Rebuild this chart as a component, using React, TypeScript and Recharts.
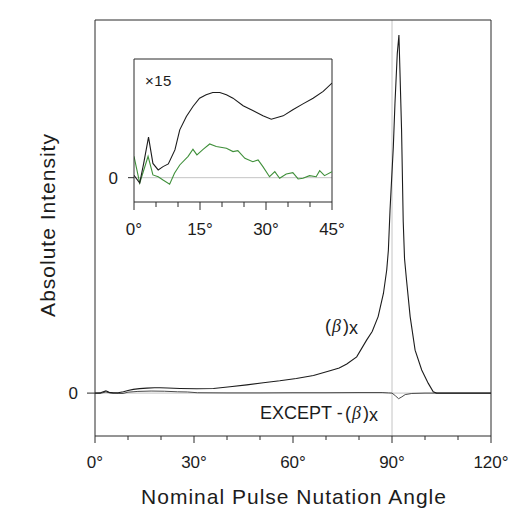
import { Line, LineChart, ReferenceLine, XAxis, YAxis } from "recharts";

const FONT = "'Liberation Sans', Arial, sans-serif";
const INK = "#1c1c1c";
const FRAME = "#2a2a2a";
const GUIDE = "#c4c4c4";
const GREEN = "#3f8f3a";

// main panel: (β)x and EXCEPT-(β)x vs nominal angle (deg)
const BETA_ANGLE = [
  0, 1.5, 2.3, 3.3, 4.3, 5.5, 7, 8.6, 10, 11.6, 13.5, 15.7, 18, 19.7, 22, 25.8, 30.8, 35.9, 40.9, 46, 51, 56, 61,
  66.2, 71.2, 74, 76.3, 79.3, 82.3, 84, 85.8, 87.4, 88.4, 88.9, 89.4, 90.4, 90.9, 91.6, 92.1, 92.4, 92.9, 93.4,
  93.8, 94.4, 95.5, 97, 99, 101, 102.5, 103.5, 110, 120,
];
const BETA_VALUE = [
  0, 0.05, 0.3, 0.6, 0.2, 0.05, 0.1, 0.35, 0.7, 1.0, 1.2, 1.34, 1.42, 1.43, 1.38, 1.25, 1.16, 1.25, 1.7, 2.2, 2.77,
  3.3, 3.93, 4.73, 5.98, 6.7, 7.8, 9.7, 14.2, 16.5, 20.5, 26.7, 33, 38.3, 49, 66, 77.7, 91, 96, 86.6, 70.5, 46, 36,
  30.3, 20.5, 11.5, 6.2, 2.6, 0.35, 0, 0, 0,
];
const EXCEPT_ANGLE = [
  0, 1.5, 3.3, 4.5, 7, 8.5, 10, 13, 17, 21, 25, 28, 31, 40, 50, 60, 70, 80, 87, 89, 90, 91, 92, 93, 94, 96, 100, 110,
  120,
];
const EXCEPT_VALUE = [
  0, -0.1, 0.3, 0.05, -0.1, -0.1, 0.25, 0.45, 0.55, 0.5, 0.35, 0.3, 0.1, 0.05, 0.05, 0.1, 0.1, 0.15, 0.15, 0.05, 0,
  -0.7, -1.5, -1.0, -0.4, -0.1, 0, 0, 0,
];
const MAIN_X_TICKS = [0, 10, 20, 30, 40, 50, 60, 70, 80, 90, 100, 110, 120];

// inset: ×15 zoom of 0–45°
const INSET_BLACK_ANGLE = [
  0, 1.3, 2.2, 3.3, 4.3, 5.5, 6.6, 7.8, 9.3, 10.4, 11.9, 13.4, 14.9, 16.4, 17.9, 19.5, 21, 22.5, 24.8, 27, 29.3,
  31.2, 33.9, 36.1, 38.4, 40.7, 43, 45,
];
const INSET_BLACK_VALUE = [
  0.2, -0.45, 1.2, 3.41, 1.2, 0.65, 0.93, 1.16, 2.34, 4.03, 5.15, 6.0, 6.7, 6.98, 7.18, 7.18, 6.98, 6.7, 6.06, 5.66,
  5.21, 4.93, 5.21, 5.72, 6.22, 6.7, 7.27, 7.97,
];
const INSET_GREEN_ANGLE = [
  0, 1.3, 3.2, 4.3, 5.5, 6.6, 8.1, 9.2, 10.4, 12.3, 13.4, 14.3, 15.7, 17.2, 18.7, 21, 22.5, 23.6, 25.2, 27, 28.2,
  29.3, 30.8, 32, 33.1, 34.6, 36.1, 37.3, 38.4, 39.9, 41.4, 42.2, 43.3, 45,
];
const INSET_GREEN_VALUE = [
  1.8, -0.45, 1.8, 0.23, 0.08, -0.2, -0.55, 0.37, 1.07, 1.8, 2.39, 1.92, 2.39, 2.84, 2.62, 2.48, 2.2, 2.28, 1.63,
  1.35, 1.49, 0.93, 0.08, 0.51, -0.05, 0.31, 0.42, -0.11, -0.05, 0.17, 0.08, 0.59, 0.17, 0.51,
];
const INSET_X_TICKS = [0, 5, 10, 15, 20, 25, 30, 35, 40, 45];

const betaData = BETA_ANGLE.map((a, i) => ({ angle: a, beta: BETA_VALUE[i] }));
const exceptData = EXCEPT_ANGLE.map((a, i) => ({ angle: a, except: EXCEPT_VALUE[i] }));
const blackData = INSET_BLACK_ANGLE.map((a, i) => ({ angle: a, v: INSET_BLACK_VALUE[i] }));
const greenData = INSET_GREEN_ANGLE.map((a, i) => ({ angle: a, v: INSET_GREEN_VALUE[i] }));

function degreeTick(step: number, majorLen: number, minorLen: number, labelDy: number) {
  return (props: any) => {
    const { x, y, payload } = props;
    const v = payload.value as number;
    const major = v % step === 0;
    return (
      <g>
        <line x1={x} x2={x} y1={y} y2={y + (major ? majorLen : minorLen)} stroke={FRAME} strokeWidth={1} />
        {major && (
          <text x={x} y={y + labelDy} textAnchor="middle" fontSize={17} fill={INK} fontFamily={FONT}>
            {`${v}°`}
          </text>
        )}
      </g>
    );
  };
}

const yTick = { fontSize: 17, fill: INK, fontFamily: FONT };
const frameLine = { stroke: FRAME, strokeWidth: 1 };

function Beta({ x, y, size }: { x: number; y: number; size: number }) {
  return (
    <text x={x} y={y} fontSize={size} fill={INK} fontFamily={FONT}>
      <tspan>(</tspan>
      <tspan fontFamily="'Liberation Serif', 'DejaVu Serif', serif" fontStyle="italic" dx={1}>
        β
      </tspan>
      <tspan dx={2}>)</tspan>
      <tspan dy={2}>x</tspan>
    </text>
  );
}

export default function App() {
  return (
    <div style={{ position: "absolute", left: 0, top: 0, width: 511, height: 510, background: "#fff", fontFamily: FONT }}>
      <div style={{ position: "absolute", left: 0, top: 0 }}>
        <LineChart width={511} height={510} margin={{ top: 20, right: 20, bottom: 44, left: 35 }}>
          <XAxis
            dataKey="angle"
            type="number"
            domain={[0, 120]}
            ticks={MAIN_X_TICKS}
            interval={0}
            height={30}
            tickSize={0}
            tickMargin={0}
            tickLine={false}
            axisLine={frameLine}
            tick={degreeTick(30, 7, 4, 32)}
            allowDataOverflow
          />
          <YAxis
            type="number"
            domain={[-11.5, 100]}
            ticks={[0]}
            width={60}
            tickSize={8}
            tickMargin={9}
            tickLine={frameLine}
            axisLine={frameLine}
            tick={yTick}
            allowDataOverflow
          />
          <ReferenceLine y={0} stroke={GUIDE} strokeWidth={1} />
          <ReferenceLine x={90} stroke={GUIDE} strokeWidth={1} />
          {/* frame top / right */}
          <ReferenceLine y={100} stroke={FRAME} strokeWidth={1} />
          <ReferenceLine x={120} stroke={FRAME} strokeWidth={1} />
          <Line data={exceptData} dataKey="except" type="linear" stroke="#4a4a4a" strokeWidth={1} dot={false} isAnimationActive={false} />
          <Line data={betaData} dataKey="beta" type="linear" stroke={INK} strokeWidth={1.1} dot={false} isAnimationActive={false} />
        </LineChart>
      </div>

      <div style={{ position: "absolute", left: 90, top: 40 }}>
        <LineChart width={260} height={210} margin={{ top: 19, right: 18, bottom: 8, left: 14 }}>
          <XAxis
            dataKey="angle"
            type="number"
            domain={[0, 45]}
            ticks={INSET_X_TICKS}
            interval={0}
            height={40}
            tickSize={0}
            tickMargin={0}
            tickLine={false}
            axisLine={frameLine}
            tick={degreeTick(15, 8, 5, 33)}
            allowDataOverflow
          />
          <YAxis
            type="number"
            domain={[-2.05, 10]}
            ticks={[0]}
            width={30}
            tickSize={6}
            tickMargin={10}
            tickLine={frameLine}
            axisLine={frameLine}
            tick={yTick}
            allowDataOverflow
          />
          <ReferenceLine y={0} stroke={GUIDE} strokeWidth={1} />
          <ReferenceLine y={10} stroke={FRAME} strokeWidth={1} />
          <ReferenceLine x={45} stroke={FRAME} strokeWidth={1} />
          <Line data={greenData} dataKey="v" type="linear" stroke={GREEN} strokeWidth={1.1} dot={false} isAnimationActive={false} />
          <Line data={blackData} dataKey="v" type="linear" stroke={INK} strokeWidth={1.1} dot={false} isAnimationActive={false} />
        </LineChart>
      </div>

      <svg width={511} height={510} style={{ position: "absolute", left: 0, top: 0, pointerEvents: "none" }}>
        <text
          x={47}
          y={225}
          transform="rotate(-90 47 225)"
          textAnchor="middle"
          dominantBaseline="central"
          fontSize={21}
          letterSpacing={1}
          fill={INK}
          fontFamily={FONT}
        >
          Absolute Intensity
        </text>
        <text x={294} y={504} textAnchor="middle" fontSize={21} letterSpacing={1} fill={INK} fontFamily={FONT}>
          Nominal Pulse Nutation Angle
        </text>
        <text x={145} y={86} fontSize={15} letterSpacing={0.5} fill={INK} fontFamily={FONT}>
          ×15
        </text>
        <Beta x={325} y={332} size={18} />
        <text x={260} y={419} fontSize={18} fill={INK} fontFamily={FONT}>
          EXCEPT -
        </text>
        <Beta x={345} y={419} size={18} />
      </svg>
    </div>
  );
}
